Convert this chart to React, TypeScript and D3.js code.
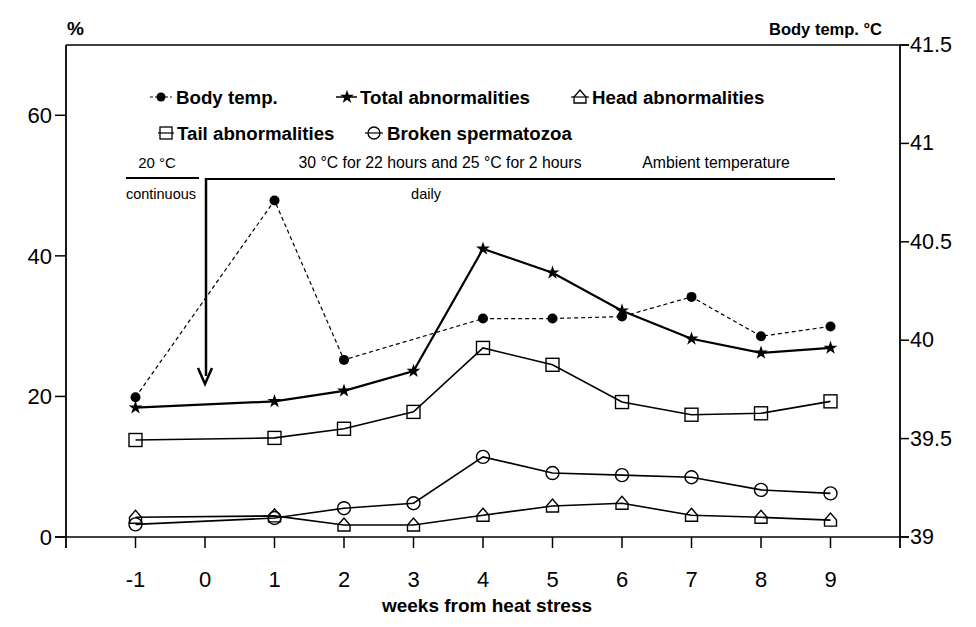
import React from "react";
import * as d3 from "d3";

// weeks from heat stress
const weeks = [-1, 1, 2, 3, 4, 5, 6, 7, 8, 9];
const tempWeeks = [-1, 1, 2, 4, 5, 6, 7, 8, 9];

// body temperature, °C (right axis)
const bodyTemp = [39.71, 40.71, 39.9, 40.11, 40.11, 40.12, 40.22, 40.02, 40.07];
// abnormalities, % (left axis)
const totalAbn = [18.4, 19.3, 20.8, 23.6, 41.0, 37.6, 32.2, 28.2, 26.2, 26.9];
const tailAbn = [13.8, 14.1, 15.4, 17.8, 26.9, 24.5, 19.2, 17.4, 17.6, 19.3];
const headAbn = [2.8, 3.0, 1.7, 1.7, 3.1, 4.4, 4.8, 3.1, 2.8, 2.4];
const broken = [1.8, 2.7, 4.1, 4.8, 11.4, 9.1, 8.8, 8.5, 6.7, 6.2];

const xTicks = [-1, 0, 1, 2, 3, 4, 5, 6, 7, 8, 9];
const leftTicks = [0, 20, 40, 60];
const rightTicks = [39, 39.5, 40, 40.5, 41, 41.5];

const FONT = "'Liberation Sans', Arial, Helvetica, sans-serif";

const x = d3.scaleLinear().domain([-2, 10]).range([66, 900]);
const yL = d3.scaleLinear().domain([0, 70]).range([537, 45]);
const yR = d3.scaleLinear().domain([39, 41.5]).range([537, 45]);

const star = d3.symbol(d3.symbolStar, 60)() as string;

function house(cx: number, cy: number) {
  const w = 6;
  return `M${cx - w},${cy + 6}L${cx + w},${cy + 6}L${cx + w},${cy}L${cx},${cy - 7}L${cx - w},${cy}Z`;
}

export default function App() {
  const lineL = d3
    .line<number>()
    .x((_, i) => x(weeks[i]))
    .y((d) => yL(d));
  const lineT = d3
    .line<number>()
    .x((_, i) => x(tempWeeks[i]))
    .y((d) => yR(d));

  const baseY = yL(0);

  return (
    <div style={{ position: "absolute", left: 0, top: 0 }}>
      <svg width={976} height={627} style={{ display: "block", background: "#fff" }} fontFamily={FONT}>
        {/* axis titles */}
        <text x={67} y={35} fontSize={19} fontWeight="bold">%</text>
        <text x={882} y={35} fontSize={16.5} fontWeight="bold" textAnchor="end">Body temp. °C</text>
        <text x={487} y={612} fontSize={19} fontWeight="bold" textAnchor="middle">weeks from heat stress</text>

        {/* frame */}
        <line x1={x(-2)} x2={x(10) + 9} y1={45} y2={45} stroke="#000" strokeWidth={1.5} />
        <line x1={x(-2)} x2={x(-2)} y1={45} y2={baseY + 11} stroke="#000" strokeWidth={1.8} />
        <line x1={x(10)} x2={x(10)} y1={45} y2={baseY + 11} stroke="#000" strokeWidth={1.8} />
        <line x1={x(-2) - 11} x2={x(10) + 9} y1={baseY} y2={baseY} stroke="#000" strokeWidth={1.5} />

        {/* left ticks */}
        {leftTicks.map((t) => (
          <g key={"l" + t}>
            <line x1={x(-2) - 11} x2={x(-2)} y1={yL(t)} y2={yL(t)} stroke="#000" strokeWidth={1.5} />
            <text x={52} y={yL(t) + 8} fontSize={22} textAnchor="end">{t}</text>
          </g>
        ))}
        {/* right ticks */}
        {rightTicks.map((t) => (
          <g key={"r" + t}>
            <line x1={x(10)} x2={x(10) + 9} y1={yR(t)} y2={yR(t)} stroke="#000" strokeWidth={1.5} />
            <text x={910} y={yR(t) + 7} fontSize={21.5}>{t}</text>
          </g>
        ))}
        {/* bottom ticks */}
        {xTicks.map((t) => (
          <g key={"x" + t}>
            <line x1={x(t)} x2={x(t)} y1={baseY} y2={baseY + 11} stroke="#000" strokeWidth={1.5} />
            <text x={x(t)} y={587} fontSize={22} textAnchor="middle">{t}</text>
          </g>
        ))}

        {/* legend */}
        <g fontSize={18.7} fontWeight="bold">
          <line x1={150} x2={172} y1={97} y2={97} stroke="#000" strokeWidth={1} strokeDasharray="3,2" />
          <circle cx={161} cy={97} r={4.5} fill="#000" />
          <text x={176} y={104}>Body temp.</text>

          <line x1={336} x2={357} y1={97} y2={97} stroke="#000" strokeWidth={1.5} />
          <path d={star} transform="translate(347,97)" fill="#000" />
          <text x={360} y={104}>Total abnormalities</text>

          <line x1={571} x2={589} y1={97} y2={97} stroke="#000" strokeWidth={1.2} />
          <path d={house(580, 97)} fill="none" stroke="#000" strokeWidth={1.3} />
          <text x={592} y={104}>Head abnormalities</text>

          <line x1={158} x2={174} y1={133} y2={133} stroke="#000" strokeWidth={1.2} />
          <rect x={160} y={127} width={12} height={12} fill="none" stroke="#000" strokeWidth={1.3} />
          <text x={177} y={140}>Tail abnormalities</text>

          <line x1={365} x2={383} y1={133} y2={133} stroke="#000" strokeWidth={1.2} />
          <circle cx={374} cy={133} r={6} fill="none" stroke="#000" strokeWidth={1.3} />
          <text x={387} y={140}>Broken spermatozoa</text>
        </g>

        {/* treatment annotation */}
        <g>
          <text x={157} y={168} fontSize={15} textAnchor="middle">20 °C</text>
          <line x1={126} x2={199} y1={178} y2={178} stroke="#000" strokeWidth={2} />
          <text x={161} y={199} fontSize={14.5} textAnchor="middle">continuous</text>
          <text x={440} y={168} fontSize={15.8} textAnchor="middle">30 °C for 22 hours and 25 °C for 2 hours</text>
          <text x={716} y={168} fontSize={15.8} textAnchor="middle">Ambient temperature</text>
          <text x={426} y={199} fontSize={14.5} textAnchor="middle">daily</text>
          <line x1={206} x2={835} y1={179} y2={179} stroke="#000" strokeWidth={2} />
          <line x1={206} x2={206} y1={178} y2={376} stroke="#000" strokeWidth={2.5} />
          <path d={`M${x(0) - 7},${368}L${x(0)},${384}L${x(0) + 7},${368}`} fill="none" stroke="#000" strokeWidth={2.5} />
        </g>

        {/* body temperature */}
        <path d={lineT(bodyTemp) as string} fill="none" stroke="#000" strokeWidth={1.2} strokeDasharray="4,3" />
        {bodyTemp.map((d, i) => (
          <circle key={"bt" + i} cx={x(tempWeeks[i])} cy={yR(d)} r={5} fill="#000" />
        ))}

        {/* total abnormalities */}
        <path d={lineL(totalAbn) as string} fill="none" stroke="#000" strokeWidth={2.2} />
        {totalAbn.map((d, i) => (
          <path key={"ta" + i} d={star} transform={`translate(${x(weeks[i])},${yL(d)})`} fill="#000" />
        ))}

        {/* tail abnormalities */}
        <path d={lineL(tailAbn) as string} fill="none" stroke="#000" strokeWidth={1.6} />
        {tailAbn.map((d, i) => (
          <rect key={"tl" + i} x={x(weeks[i]) - 6.5} y={yL(d) - 6.5} width={13} height={13} fill="none" stroke="#000" strokeWidth={1.4} />
        ))}

        {/* broken spermatozoa */}
        <path d={lineL(broken) as string} fill="none" stroke="#000" strokeWidth={1.6} />
        {broken.map((d, i) => (
          <circle key={"br" + i} cx={x(weeks[i])} cy={yL(d)} r={6.5} fill="none" stroke="#000" strokeWidth={1.4} />
        ))}

        {/* head abnormalities */}
        <path d={lineL(headAbn) as string} fill="none" stroke="#000" strokeWidth={1.6} />
        {headAbn.map((d, i) => (
          <path key={"hd" + i} d={house(x(weeks[i]), yL(d))} fill="none" stroke="#000" strokeWidth={1.4} />
        ))}
      </svg>
    </div>
  );
}
